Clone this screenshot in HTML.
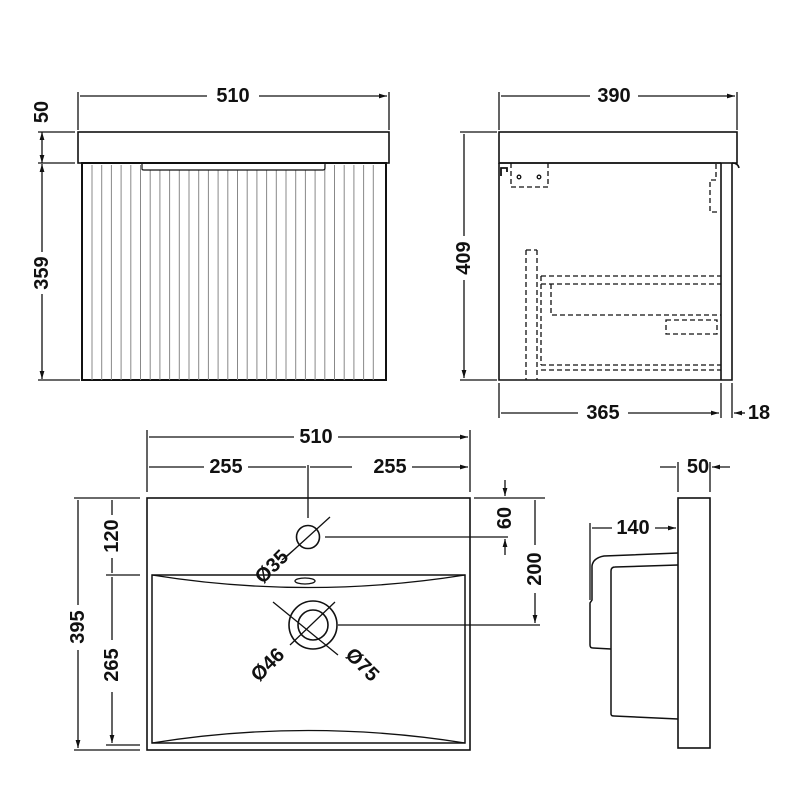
<!DOCTYPE html>
<html><head><meta charset="utf-8"><style>
html,body{margin:0;padding:0;background:#fff;}
svg{display:block}
text{font-family:"Liberation Sans",sans-serif;font-weight:bold;font-size:20px;fill:#111;text-anchor:middle;dominant-baseline:central}
</style></head><body>
<svg width="800" height="800" viewBox="0 0 800 800" xmlns="http://www.w3.org/2000/svg">
<defs>
<marker id="a" viewBox="0 0 10 10" refX="10" refY="5" markerWidth="8" markerHeight="8" orient="auto-start-reverse" markerUnits="userSpaceOnUse"><path d="M0,2 L10,5 L0,8 z" fill="#111"/></marker>
</defs>
<g stroke="#111" stroke-width="1.3" fill="none">
<!-- FRONT VIEW -->
<rect x="78" y="132" width="311" height="31" stroke-width="1.6"/>
<rect x="82" y="163" width="304" height="217" stroke-width="2"/>
<g stroke="#888" stroke-width="1">
<path d="M92 165V380M101.7 165V380M111.4 165V380M121.1 165V380M130.8 165V380M140.5 165V380M150.2 170V380M159.9 170V380M169.6 170V380M179.3 170V380M189 170V380M198.7 170V380M208.4 170V380M218.1 170V380M227.8 170V380M237.5 170V380M247.2 170V380M256.9 170V380M266.6 170V380M276.3 170V380M286 170V380M295.7 170V380M305.4 170V380M315.1 170V380M324.8 165V380M334.5 165V380M344.2 165V380M353.9 165V380M363.6 165V380M373.3 165V380"/>
</g>
<path d="M142 164V169Q142 170 144 170H323Q325 170 325 168V164" stroke-width="1.2"/>
<!-- front dims -->
<path d="M78 92V130M389 92V130"/>
<path d="M207 96H80M259 96H387" marker-end="url(#a)"/>
<path d="M38 132H75M38 163H75M38 380H80"/>
<path d="M42 132V163" marker-start="url(#a)" marker-end="url(#a)"/>
<path d="M42 164V252" marker-start="url(#a)"/>
<path d="M42 294V379" marker-end="url(#a)"/>
<!-- SIDE VIEW -->
<rect x="499" y="132" width="238" height="31" stroke-width="1.6"/>
<path d="M499 163V380H732V163M721 163V380M499 163H721" stroke-width="1.6"/>
<path d="M732 163Q738 163 739 168" stroke-width="1.6"/>
<path d="M501 176V168H507V172" stroke-width="1.8"/>
<circle cx="519" cy="177" r="1.8"/><circle cx="539" cy="177" r="1.8"/>
<g stroke-dasharray="5,3">
<path d="M511 163V187H548V163"/>
<path d="M716 164V180H710V212H720"/>
<path d="M526 250V380M537 250V380M526 250H537"/>
<path d="M541 276H721M541 284H721M541 276V365M551 284V315H721M541 365H721M541 370H721"/>
<rect x="666" y="320" width="51" height="14"/>
</g>
<!-- side dims -->
<path d="M499 92V130M737 92V130"/>
<path d="M590 96H501M638 96H735" marker-end="url(#a)"/>
<path d="M460 132H497M460 380H497"/>
<path d="M464 236V134M464 280V378" marker-end="url(#a)"/>
<path d="M499 383V418M721 383V418M732 383V418"/>
<path d="M578 413H501M628 413H719" marker-end="url(#a)"/>
<path d="M745 413H734" marker-end="url(#a)"/>
<!-- BASIN PLAN -->
<rect x="147" y="498" width="323" height="252" stroke-width="1.6"/>
<path d="M152 575H465V743H152Z" stroke-width="1.5"/>
<path d="M152 575Q308 600 465 575M152 743Q308 718 465 743"/>
<ellipse cx="305" cy="581" rx="10" ry="3"/>
<circle cx="308" cy="537" r="11.5" stroke-width="1.6"/>
<path d="M330 517L286 557M296 548L282 560"/>
<circle cx="313" cy="625" r="24" stroke-width="1.6"/>
<circle cx="313" cy="625" r="15" stroke-width="1.6"/>
<path d="M273 602L338 655M335 602L290 645"/>
<path d="M325 537H508M338 625H540"/>
<!-- basin dims -->
<path d="M147 430V492M470 430V492M308 465V518"/>
<path d="M294 437H149M338 437H468" marker-end="url(#a)"/>
<path d="M204 467H149M248 467H306M352 467H310M412 467H468" marker-end="url(#a)"/>
<path d="M474 498H545"/>
<path d="M505 480V496"  marker-end="url(#a)"/>
<path d="M505 555V539" marker-end="url(#a)"/>
<path d="M535 545V500M535 593V623" marker-end="url(#a)"/>
<path d="M74 498H140M74 750H140M106 575H140M106 745H140"/>
<path d="M78 605V500M78 650V748" marker-end="url(#a)"/>
<path d="M112 515V500M112 558V573M112 640V577M112 692V743" marker-end="url(#a)"/>
<!-- PROFILE -->
<rect x="678" y="498" width="32" height="250" stroke-width="1.6"/>
<path d="M678 553L604 556Q593 558 592 566V600L590 603V645Q590 648 593 648L611 649" stroke-width="1.5"/>
<path d="M678 565L615 567Q611 567 611 571V714Q611 716 614 716L678 719" stroke-width="1.5"/>
<path d="M678 462V492M710 462V492"/>
<path d="M660 467H676M730 467H712" marker-end="url(#a)"/>
<path d="M590 523V600"/>
<path d="M612 528H592M655 528H676" marker-end="url(#a)"/>
</g>
<text x="233" y="96">510</text>
<text transform="translate(42,112) rotate(-90)">50</text>
<text transform="translate(42,273) rotate(-90)">359</text>
<text x="614" y="96">390</text>
<text transform="translate(464,258) rotate(-90)">409</text>
<text x="603" y="413">365</text>
<text x="759" y="413">18</text>
<text x="316" y="437">510</text>
<text x="226" y="467">255</text>
<text x="390" y="467">255</text>
<text transform="translate(505,518) rotate(-90)">60</text>
<text transform="translate(535,569) rotate(-90)">200</text>
<text transform="translate(78,627) rotate(-90)">395</text>
<text transform="translate(112,536) rotate(-90)">120</text>
<text transform="translate(112,665) rotate(-90)">265</text>
<text transform="translate(272,567) rotate(-45)">Ø35</text>
<text transform="translate(268,665) rotate(-45)">Ø46</text>
<text transform="translate(362,665) rotate(45)">Ø75</text>
<text x="698" y="467">50</text>
<text x="633" y="528">140</text>
</svg>
</body></html>
